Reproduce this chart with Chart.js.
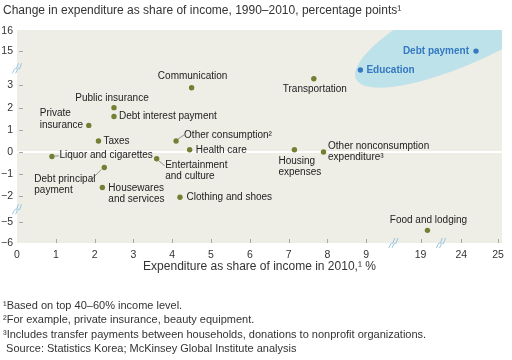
<!DOCTYPE html>
<html><head><meta charset="utf-8">
<script src="https://cdn.jsdelivr.net/npm/chart.js@4/dist/chart.umd.min.js"></script>
<style>html,body{margin:0;padding:0;background:#fff}#wrap{width:512px;height:360px;position:relative}</style>
</head><body><div id="wrap"><canvas id="c" width="512" height="360"></canvas></div>
<script>
// ---------------- data ----------------
const categories = ['Communication','Public insurance','Debt interest payment','Private insurance','Taxes',
  'Liquor and cigarettes','Debt principal payment','Housewares and services','Other consumption','Health care',
  'Entertainment and culture','Clothing and shoes','Housing expenses','Other nonconsumption expenditure',
  'Transportation','Food and lodging','Education','Debt payment'];
// Expenditure as share of income in 2010, %
const shareOfIncome2010 = [4.5,2.5,2.5,1.85,2.1,0.9,2.25,2.2,4.1,4.45,3.6,4.2,7.15,7.9,7.65,19.85,8.85,24.4];
// Change in expenditure as share of income 1990-2010, percentage points
const changeInShare = [2.9,2.0,1.6,1.2,0.5,-0.2,-0.7,-1.6,0.5,0.1,-0.3,-2.1,0.1,0.0,3.3,-5.4,3.7,15.0];
const highlighted = ['Education','Debt payment'];
const xTickValues = [0,1,2,3,4,5,6,7,8,9,19,24,25];
const yTickValues = [16,15,3,2,1,0,-1,-2,-5,-6];
const xBreaks = [[9,19],[19,24]];
const yBreaks = [[3,15],[-5,-2]];
const title = 'Change in expenditure as share of income, 1990–2010, percentage points¹';
const xTitle = 'Expenditure as share of income in 2010,¹ %';
const footnotes = ['¹Based on top 40–60% income level.',
  '²For example, private insurance, beauty equipment.',
  '³Includes transfer payments between households, donations to nonprofit organizations.',
  ' Source: Statistics Korea; McKinsey Global Institute analysis'];

// ---------------- broken-axis mapping (layout) ----------------
const AXIS_MAP = {
  x: [[0,0],[9,9],[19,10.4],[24,11.45],[25,12.4]],
  y: [[-6,-4.1],[-5,-3.15],[-2,-2],[3.8,3.8],[15,4.55],[16,5.45]]
};
class BrokenScale extends Chart.LinearScale {
  toDisplay(v) {
    const a = AXIS_MAP[this.id];
    if (!a) return v;
    let i = 0;
    while (i < a.length - 2 && v > a[i+1][0]) i++;
    const r0 = a[i][0], d0 = a[i][1], r1 = a[i+1][0], d1 = a[i+1][1];
    return d0 + (v - r0) * (d1 - d0) / (r1 - r0);
  }
  getPixelForValue(value) {
    if (value === null || value === undefined) return NaN;
    return super.getPixelForValue(this.toDisplay(value));
  }
}
BrokenScale.id = 'broken';
BrokenScale.defaults = Chart.LinearScale.defaults;
Chart.register(BrokenScale);

// ---------------- label layout ----------------
const labelLayout = {
 'Communication': {dx:1, dy:-11, align:'center'},
 'Public insurance': {dx:-2, dy:-9, align:'center'},
 'Debt interest payment': {dx:5, dy:0},
 'Private insurance': {dx:-49, dy:-12, lines:['Private','insurance'], lh:12},
 'Taxes': {dx:5, dy:0},
 'Liquor and cigarettes': {dx:7.5, dy:-1, leader:[3,-0.5,7,-0.5]},
 'Debt principal payment': {dx:-70, dy:12, lines:['Debt principal','payment'], leader:[-3,2,-14,13]},
 'Housewares and services': {dx:6, dy:0.5, lines:['Housewares','and services']},
 'Other consumption': {dx:8, dy:-6, lines:['Other consumption²'], leader:[2,-2,8,-6]},
 'Health care': {dx:6, dy:0},
 'Entertainment and culture': {dx:8.5, dy:7, lines:['Entertainment','and culture'], leader:[2,2,8,7]},
 'Clothing and shoes': {dx:6.5, dy:0},
 'Housing expenses': {dx:-16, dy:11, lines:['Housing','expenses']},
 'Other nonconsumption expenditure': {dx:4.5, dy:-6, lines:['Other nonconsumption','expenditure³']},
 'Transportation': {dx:1, dy:10, align:'center'},
 'Food and lodging': {dx:1, dy:-10, align:'center'},
 'Education': {dx:6, dy:0, bold:true},
 'Debt payment': {dx:-7, dy:0, align:'right', bold:true}
};

const FONT = '"Liberation Sans", Arial, Helvetica, sans-serif';
const OLIVE = '#718032', BLUE = '#3479c1', TEXT = '#222';

const normalPts = [], bluePts = [];
categories.forEach((c, i) => {
  const p = {x: shareOfIncome2010[i], y: changeInShare[i], name: c};
  (highlighted.includes(c) ? bluePts : normalPts).push(p);
});

const decor = {
  id: 'decor',
  beforeDraw(chart) {
    const {ctx, chartArea: a} = chart;
    ctx.save();
    ctx.fillStyle = '#fff';
    ctx.fillRect(0, 0, chart.width, chart.height);
    ctx.fillStyle = '#eeede6';
    ctx.fillRect(a.left, a.top, a.right - a.left, a.bottom - a.top);
    // title
    ctx.fillStyle = '#333';
    ctx.font = '12px ' + FONT;
    ctx.textBaseline = 'middle';
    ctx.textAlign = 'left';
    ctx.fillText(title, 3, 11);
    // footnotes
    ctx.font = '11px ' + FONT;
    footnotes.forEach((t, i) => ctx.fillText(t, 3, 306 + i * 14.3));
    ctx.restore();
  },
  beforeDatasetsDraw(chart) {
    const {ctx, chartArea: a} = chart;
    ctx.save();
    ctx.beginPath();
    ctx.rect(a.left, a.top, a.right - a.left, a.bottom - a.top);
    ctx.clip();
    ctx.fillStyle = '#bee2ea';
    ctx.beginPath();
    ctx.ellipse(a.right - 30, a.top - 5, 128, 35, -25 * Math.PI / 180, 0, Math.PI * 2);
    ctx.fill();
    ctx.restore();
  },
  afterDatasetsDraw(chart) {
    const {ctx} = chart;
    ctx.save();
    ctx.textBaseline = 'middle';
    chart.data.datasets.forEach((ds, di) => {
      const meta = chart.getDatasetMeta(di);
      meta.data.forEach((el, j) => {
        const name = ds.data[j].name;
        const L = labelLayout[name] || {dx:6, dy:0};
        const lines = L.lines || [name];
        const lh = L.lh || 11;
        if (L.leader) {
          ctx.strokeStyle = '#777';
          ctx.lineWidth = 0.8;
          ctx.beginPath();
          ctx.moveTo(el.x + L.leader[0], el.y + L.leader[1]);
          ctx.lineTo(el.x + L.leader[2], el.y + L.leader[3]);
          ctx.stroke();
        }
        ctx.font = (L.bold ? 'bold ' : '') + '10px ' + FONT;
        ctx.fillStyle = L.bold ? BLUE : TEXT;
        ctx.textAlign = L.align || 'left';
        lines.forEach((t, k) => ctx.fillText(t, el.x + L.dx, el.y + L.dy + k * lh));
      });
    });
    ctx.restore();
  },
  afterDraw(chart) {
    const {ctx, chartArea: a, scales: {x, y}} = chart;
    ctx.save();
    ctx.strokeStyle = '#a8a8a8';
    ctx.lineWidth = 1;
    ctx.beginPath();
    xTickValues.forEach(v => {
      const px = Math.round(x.getPixelForValue(v)) + 0.5;
      if (px > a.left + 2 && px < a.right - 2) { ctx.moveTo(px, a.bottom); ctx.lineTo(px, a.bottom - 4); }
    });
    yTickValues.forEach(v => {
      const py = Math.round(y.getPixelForValue(v)) + 0.5;
      if (py > a.top + 2 && py < a.bottom - 2) { ctx.moveTo(a.left + 2, py); ctx.lineTo(a.left + 6, py); }
    });
    ctx.stroke();
    // break marks
    ctx.strokeStyle = '#8fbfdc';
    ctx.lineWidth = 0.9;
    const squiggle = (cx, cy) => {
      [-1.6, 1.6].forEach(o => {
        ctx.beginPath();
        ctx.moveTo(cx - 3 + o, cy + 5);
        ctx.lineTo(cx - 1 + o, cy + 1);
        ctx.quadraticCurveTo(cx + o, cy - 1, cx + 1 + o, cy + 0.5);
        ctx.lineTo(cx + 3 + o, cy - 5);
        ctx.stroke();
      });
    };
    xBreaks.forEach(([p, q]) => squiggle((x.getPixelForValue(p) + x.getPixelForValue(q)) / 2, a.bottom));
    yBreaks.forEach(([p, q]) => squiggle(a.left, (y.getPixelForValue(p) + y.getPixelForValue(q)) / 2));
    ctx.restore();
  }
};

const minusFmt = v => (v < 0 ? '−' + Math.abs(v) : String(v));

new Chart(document.getElementById('c'), {
  type: 'scatter',
  data: {
    datasets: [
      {data: normalPts, backgroundColor: OLIVE, borderWidth: 0, pointRadius: 2.7},
      {data: bluePts, backgroundColor: BLUE, borderWidth: 0, pointRadius: 2.7}
    ]
  },
  options: {
    responsive: false, animation: false, devicePixelRatio: 1,
    layout: {padding: {left: 0, top: 30, right: 10, bottom: 80}},
    plugins: {legend: {display: false}, tooltip: {enabled: false}},
    scales: {
      x: {
        type: 'broken', min: 0, max: 12.5, bounds: 'data',
        afterBuildTicks: s => { s.ticks = xTickValues.map(v => ({value: v})); },
        afterFit: s => { s.height = 37; },
        grid: {display: false, drawTicks: false},
        border: {display: false},
        ticks: {autoSkip: false, maxRotation: 0, padding: 6, color: '#333',
                font: {family: FONT, size: 10.5}, callback: v => minusFmt(v)},
        title: {display: true, text: xTitle, color: '#333', font: {family: FONT, size: 12},
                padding: {top: 2, bottom: 6}}
      },
      y: {
        type: 'broken', min: -4.1, max: 5.5, bounds: 'data',
        afterBuildTicks: s => { s.ticks = yTickValues.map(v => ({value: v})); },
        afterFit: s => { s.width = 17; },
        grid: {drawTicks: false, drawOnChartArea: true, lineWidth: 2,
               color: c => (c.tick && c.tick.value === 0 ? '#ffffff' : 'rgba(0,0,0,0)')},
        border: {display: false},
        ticks: {autoSkip: false, padding: 4, color: '#333',
                font: {family: FONT, size: 10.5}, callback: v => minusFmt(v)}
      }
    }
  },
  plugins: [decor]
});
</script>
</body></html>
